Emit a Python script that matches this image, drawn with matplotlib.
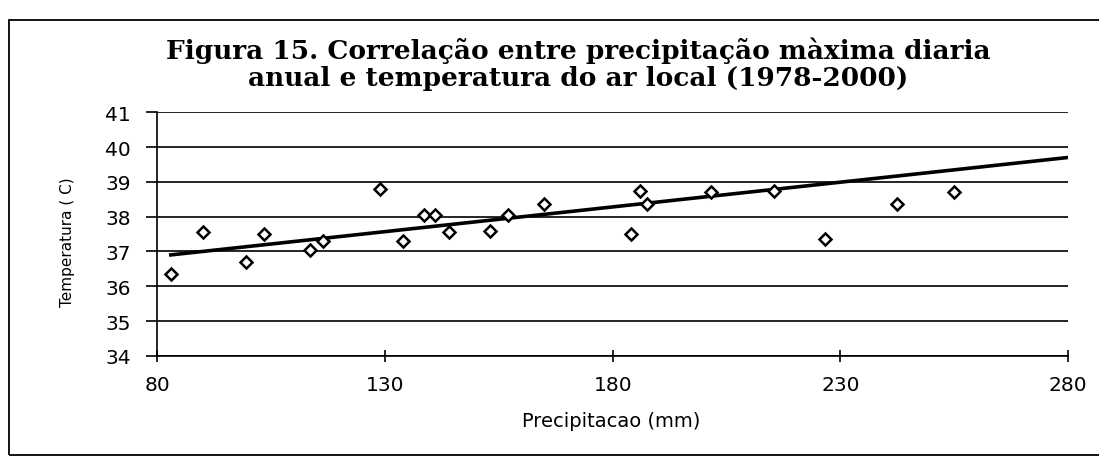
import numpy as np
from matplotlib import pyplot as plt
from matplotlib.patches import Rectangle

# Precipitação máxima diária anual (mm) e temperatura do ar (C)
precip = [83, 90, 99.5, 103.5, 113.5, 116.5, 129, 134, 138.5, 141, 144,
          153, 157, 165, 184, 186, 187.5, 201.5, 215.5, 226.5, 242.5, 255]
temp = [36.35, 37.55, 36.7, 37.5, 37.05, 37.3, 38.8, 37.3, 38.05, 38.05, 37.55,
        37.6, 38.05, 38.35, 37.5, 38.75, 38.35, 38.7, 38.75, 37.35, 38.35, 38.7]

# linha de tendência
trend_x = [83, 280]
trend_y = [36.9, 39.7]

x_ticks = [80, 130, 180, 230, 280]
y_ticks = [34, 35, 36, 37, 38, 39, 40, 41]

title = ('Figura 15. Correlação entre precipitação màxima diaria\n'
         'anual e temperatura do ar local (1978-2000)')

fig = plt.figure(figsize=(10.99, 4.64), dpi=100)
fig.patches.append(Rectangle((0.008, 0.017), 1.1, 0.938, transform=fig.transFigure,
                             fill=False, edgecolor='black', linewidth=1.3))

ax = fig.add_axes([0.143, 0.231, 0.829, 0.525])
ax.plot(trend_x, trend_y, color='black', linewidth=2.6, zorder=3)
ax.plot(precip, temp, linestyle='none', marker='D', markersize=6.5,
        markerfacecolor='white', markeredgecolor='black', markeredgewidth=1.8, zorder=4)

ax.set_xlim(80, 280)
ax.set_ylim(34, 41)
ax.set_xticks(x_ticks)
ax.set_yticks(y_ticks)
ax.yaxis.grid(True, color='black', linewidth=1.2)
ax.set_axisbelow(True)
for side in ['top', 'right']:
    ax.spines[side].set_visible(False)
for side in ['left', 'bottom']:
    ax.spines[side].set_linewidth(1.2)

ax.tick_params(axis='y', direction='out', length=8, width=1.2, pad=11, labelsize=14.5)
ax.tick_params(axis='x', direction='inout', length=8, width=1.2, pad=10, labelsize=14.5)

ax.set_xlabel('Precipitacao (mm)', fontsize=14)
ax.set_ylabel('Temperatura ( C)', fontsize=11)
ax.xaxis.set_label_coords(0.498, -0.225)
ax.yaxis.set_label_coords(-0.09, 0.47)

fig.text(0.526, 0.862, title, ha='center', va='center', fontsize=19,
         fontweight='bold', family='DejaVu Serif', linespacing=1.1)

fig.savefig('out.png', dpi=100)
